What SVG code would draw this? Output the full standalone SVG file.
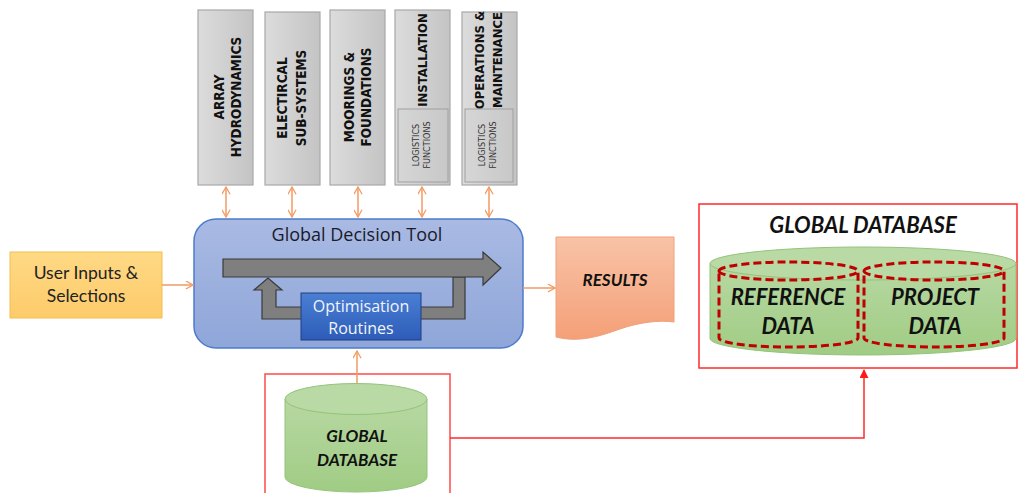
<svg xmlns="http://www.w3.org/2000/svg" width="1019" height="493" viewBox="0 0 1019 493">
  <defs>
    <linearGradient id="gGray" x1="0" y1="0" x2="1" y2="0">
      <stop offset="0" stop-color="#dcdcdc"/>
      <stop offset="1" stop-color="#c4c4c4"/>
    </linearGradient>
    <linearGradient id="gInner" x1="0" y1="0" x2="1" y2="0">
      <stop offset="0" stop-color="#d6d6d6"/>
      <stop offset="1" stop-color="#c8c8c8"/>
    </linearGradient>
    <linearGradient id="gBlue" x1="0" y1="0" x2="0" y2="1">
      <stop offset="0" stop-color="#a9bae3"/>
      <stop offset="1" stop-color="#8fa6d9"/>
    </linearGradient>
    <linearGradient id="gOpt" x1="0" y1="0" x2="0" y2="1">
      <stop offset="0" stop-color="#4a7fd4"/>
      <stop offset="1" stop-color="#2d5cb8"/>
    </linearGradient>
    <linearGradient id="gUser" x1="0" y1="0" x2="0" y2="1">
      <stop offset="0" stop-color="#ffd985"/>
      <stop offset="1" stop-color="#fdcb6a"/>
    </linearGradient>
    <linearGradient id="gRes" x1="0" y1="0" x2="0" y2="1">
      <stop offset="0" stop-color="#f8c3a6"/>
      <stop offset="1" stop-color="#f4a078"/>
    </linearGradient>
    <linearGradient id="gGreen" x1="0" y1="0" x2="0" y2="1">
      <stop offset="0" stop-color="#b7d8a2"/>
      <stop offset="1" stop-color="#a0cc84"/>
    </linearGradient>
    <marker id="chev" viewBox="0 0 10 10" refX="9" refY="5" markerWidth="9" markerHeight="9" markerUnits="userSpaceOnUse" orient="auto-start-reverse">
      <path d="M1,0.5 L9,5 L1,9.5" fill="none" stroke="#f39a62" stroke-width="1.4"/>
    </marker>
    <marker id="tri" viewBox="0 0 10 10" refX="9" refY="5" markerWidth="9" markerHeight="9" markerUnits="userSpaceOnUse" orient="auto">
      <path d="M0,0 L10,5 L0,10 Z" fill="#ff1a1a"/>
    </marker>
  </defs>
  <style>
    .mod { fill: url(#gGray); stroke: #a8a8a8; stroke-width: 1.2; }
    .inner { fill: url(#gInner); stroke: #a0a0a0; stroke-width: 1; }
    .mt { font-family: "DejaVu Sans Condensed", "Liberation Sans", sans-serif; font-weight: bold; font-size: 13.5px; fill: #111; text-anchor: middle; }
    .mt2 { font-family: "DejaVu Sans Condensed", "Liberation Sans", sans-serif; font-weight: bold; font-size: 13px; fill: #111; text-anchor: middle; }
    .lt { font-family: "DejaVu Sans Condensed", "Liberation Sans", sans-serif; font-size: 9px; fill: #333; text-anchor: middle; }
    .orange { stroke: #f39a62; stroke-width: 1.5; fill: none; }
    .red { stroke: #ff2a2a; stroke-width: 1.5; fill: none; }
    .bi { font-family: Lato, "Liberation Sans", sans-serif; font-weight: bold; font-style: italic; fill: #111; text-anchor: middle; }
    .cal { font-family: Lato, "Open Sans", sans-serif; fill: #222; text-anchor: middle; }
    .seg { font-family: "Open Sans", "Noto Sans", sans-serif; text-anchor: middle; }
    .dash { fill: none; stroke: #c00000; stroke-width: 3; stroke-dasharray: 8 4; }
  </style>

  <!-- module boxes along the top -->
  <g id="array-hydrodynamics">
    <rect class="mod" x="198" y="10" width="55" height="175"/>
    <text class="mt" transform="translate(224,97) rotate(-90)">ARRAY</text>
    <text class="mt" transform="translate(241,97) rotate(-90)">HYDRODYNAMICS</text>
  </g>
  <g id="electrical">
    <rect class="mod" x="265" y="12" width="55" height="173"/>
    <text class="mt" transform="translate(287,98) rotate(-90)">ELECTIRCAL</text>
    <text class="mt" transform="translate(306,98) rotate(-90)">SUB-SYSTEMS</text>
  </g>
  <g id="moorings">
    <rect class="mod" x="330" y="10" width="55" height="175"/>
    <text class="mt" transform="translate(354,97) rotate(-90)">MOORINGS &amp;</text>
    <text class="mt" transform="translate(371,97) rotate(-90)">FOUNDATIONS</text>
  </g>
  <g id="installation">
    <rect class="mod" x="395" y="10" width="55" height="175"/>
    <text class="mt2" transform="translate(427,60) rotate(-90)">INSTALLATION</text>
    <rect class="inner" x="398" y="109" width="50" height="73"/>
    <text class="lt" transform="translate(419,145) rotate(-90)">LOGISTICS</text>
    <text class="lt" transform="translate(430,145) rotate(-90)">FUNCTIONS</text>
  </g>
  <g id="operations">
    <rect class="mod" x="462" y="12" width="55" height="173"/>
    <text class="mt2" transform="translate(484,60) rotate(-90)">OPERATIONS &amp;</text>
    <text class="mt2" transform="translate(502,60) rotate(-90)">MAINTENANCE</text>
    <rect class="inner" x="465" y="109" width="48" height="73"/>
    <text class="lt" transform="translate(485,145) rotate(-90)">LOGISTICS</text>
    <text class="lt" transform="translate(496,145) rotate(-90)">FUNCTIONS</text>
  </g>

  <!-- central tool -->
  <g id="global-decision-tool">
    <rect x="194" y="219" width="329" height="129" rx="22" fill="url(#gBlue)" stroke="#4f7bcc" stroke-width="1.5"/>
    <text class="seg" x="357" y="241" font-size="18" fill="#1a1a2a">Global Decision Tool</text>
    <polygon points="465,277 465,319 262,319 262,290 254,290 268,278 282,290 276,290 276,307 453,307 453,277" fill="#7f7f7f" stroke="#3a3a3a" stroke-width="1.2"/>
    <polygon points="223,259 483,259 483,252 501,268 483,285 483,277 223,277" fill="#7f7f7f" stroke="#3a3a3a" stroke-width="1.2"/>
  </g>
  <g id="optimisation">
    <rect x="301" y="293" width="120" height="47" fill="url(#gOpt)" stroke="#1f3f80" stroke-width="1"/>
    <text class="seg" x="361" y="312" font-size="16" fill="#f2f4fa">Optimisation</text>
    <text class="seg" x="361" y="334" font-size="16" fill="#f2f4fa">Routines</text>
  </g>

  <g id="user-inputs">
    <rect x="10" y="252" width="152" height="66" fill="url(#gUser)" stroke="#f2bf4c" stroke-width="1"/>
    <text class="cal" x="86" y="279" font-size="17.5">User Inputs &amp;</text>
    <text class="cal" x="86" y="302" font-size="17.5">Selections</text>
  </g>

  <g id="results">
    <path d="M556,237 H674 V322 C660,320 640,322 620,329 C600,336 580,343 556,337 Z" fill="url(#gRes)" stroke="#f0a07a" stroke-width="1"/>
    <text class="bi" x="615" y="286" font-size="17">RESULTS</text>
  </g>

  <g id="global-database-detail">
    <rect x="699" y="204" width="318" height="164" fill="#fff" stroke="#ff2a2a" stroke-width="1.5"/>
    <text class="bi" x="863" y="233" font-size="22">GLOBAL DATABASE</text>
    <path d="M710,263.5 V338.5 A153,16.5 0 0 0 1016,338.5 V263.5" fill="url(#gGreen)" stroke="#93c47a" stroke-width="1"/>
    <ellipse cx="863" cy="263.5" rx="153" ry="16.5" fill="#b9d9a5" stroke="#93c47a" stroke-width="1"/>
    <path class="dash" d="M719,271 A69.5,9 0 0 1 858,271 V338 A69.5,9 0 0 1 719,338 Z M719,271 A69.5,9 0 0 0 858,271"/>
    <path class="dash" d="M864,271 A70,9 0 0 1 1004,271 V338 A70,9 0 0 1 864,338 Z M864,271 A70,9 0 0 0 1004,271"/>
    <text class="bi" x="788" y="305" font-size="22">REFERENCE</text>
    <text class="bi" x="788" y="334" font-size="22">DATA</text>
    <text class="bi" x="935" y="305" font-size="22">PROJECT</text>
    <text class="bi" x="935" y="334" font-size="22">DATA</text>
  </g>

  <g id="global-database">
    <rect x="265" y="374" width="185" height="130" fill="#fff" stroke="#ff4a4a" stroke-width="1.5"/>
    <path d="M285,399 V477 A71,15 0 0 0 427,477 V399" fill="url(#gGreen)" stroke="#93c47a" stroke-width="1"/>
    <ellipse cx="356" cy="399" rx="71" ry="15.5" fill="#b9d9a5" stroke="#93c47a" stroke-width="1"/>
    <text class="bi" x="357" y="442" font-size="17">GLOBAL</text>
    <text class="bi" x="357" y="466" font-size="17">DATABASE</text>
  </g>

  <!-- connectors -->
  <g id="connectors">
    <line class="orange" x1="226" y1="187" x2="226" y2="217" marker-start="url(#chev)" marker-end="url(#chev)"/>
    <line class="orange" x1="292" y1="187" x2="292" y2="217" marker-start="url(#chev)" marker-end="url(#chev)"/>
    <line class="orange" x1="358" y1="187" x2="358" y2="217" marker-start="url(#chev)" marker-end="url(#chev)"/>
    <line class="orange" x1="422" y1="187" x2="422" y2="217" marker-start="url(#chev)" marker-end="url(#chev)"/>
    <line class="orange" x1="489" y1="187" x2="489" y2="217" marker-start="url(#chev)" marker-end="url(#chev)"/>
    <line class="orange" x1="162" y1="285" x2="193" y2="285" marker-end="url(#chev)"/>
    <line class="orange" x1="523" y1="288" x2="555" y2="288" marker-end="url(#chev)"/>
    <line class="orange" x1="357" y1="383" x2="357" y2="351" marker-end="url(#chev)"/>
    <polyline class="red" points="450,438 864,438 864,370" marker-end="url(#tri)"/>
  </g>
</svg>
